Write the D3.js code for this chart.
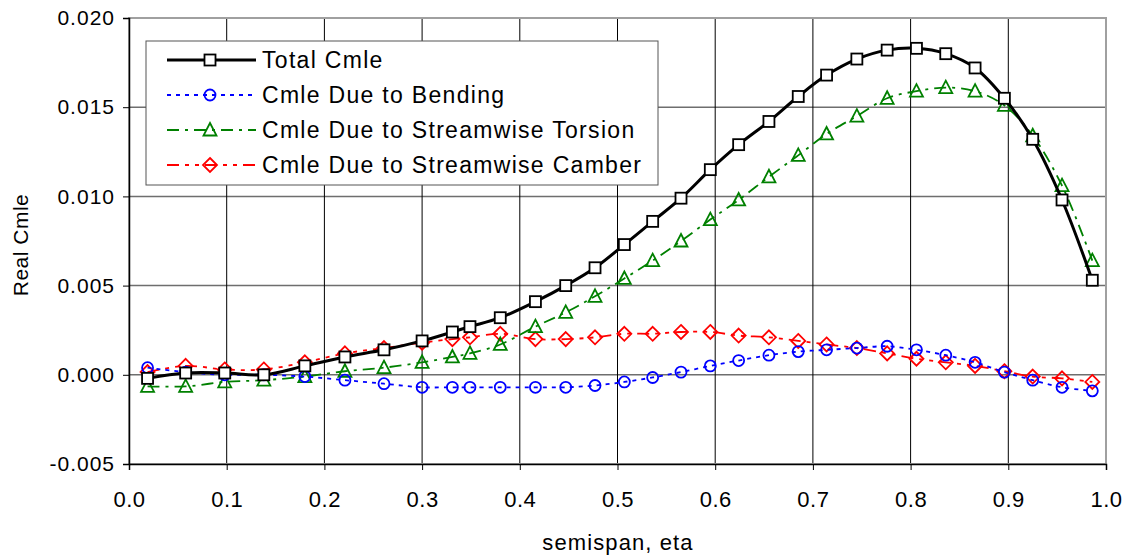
<!DOCTYPE html>
<html>
<head>
<meta charset="utf-8">
<script src="https://cdn.jsdelivr.net/npm/d3@7"></script>
<style>
  body { margin: 0; background: #fff; }
  svg text { font-family: "Liberation Sans", Arial, sans-serif; fill: #000; }
</style>
</head>
<body>
<div id="chart"></div>
<script>
// spanwise stations (eta)
var eta = [0.019, 0.058, 0.098, 0.138, 0.180, 0.221, 0.261, 0.300, 0.331, 0.349, 0.380,
           0.416, 0.447, 0.477, 0.507, 0.536, 0.565, 0.595, 0.624, 0.655, 0.685, 0.714,
           0.745, 0.776, 0.806, 0.836, 0.866, 0.896, 0.925, 0.955, 0.986];

var totalCmle = [-0.0002, 0.0001, 0.0001, 0.0000, 0.0005, 0.0010, 0.0014, 0.0019, 0.0024, 0.0027, 0.0032,
                 0.0041, 0.0050, 0.0060, 0.0073, 0.0086, 0.0099, 0.0115, 0.0129, 0.0142, 0.0156, 0.0168,
                 0.0177, 0.0182, 0.0183, 0.0180, 0.0172, 0.0155, 0.0132, 0.0098, 0.0053];

var bendingCmle = [0.0004, 0.00015, 0.0000, 0.0000, -0.0001, -0.0003, -0.0005, -0.0007, -0.0007, -0.0007, -0.0007,
                   -0.0007, -0.0007, -0.0006, -0.0004, -0.00015, 0.00015, 0.0005, 0.0008, 0.0011, 0.0013, 0.0014,
                   0.0015, 0.0016, 0.0014, 0.0011, 0.0007, 0.00015, -0.0003, -0.0007, -0.0009];

var torsionCmle = [-0.00065, -0.00065, -0.0004, -0.0003, -0.0001, 0.0002, 0.0004, 0.0007, 0.0010, 0.0012, 0.0017,
                   0.0027, 0.0035, 0.0044, 0.0054, 0.0064, 0.0075, 0.0087, 0.0098, 0.0111, 0.0123, 0.0135,
                   0.0145, 0.0155, 0.0159, 0.0161, 0.0159, 0.0151, 0.0134, 0.0106, 0.0064];

var camberCmle = [0.00015, 0.0005, 0.0003, 0.0003, 0.0007, 0.0012, 0.0015, 0.0018, 0.0020, 0.0021, 0.0023,
                  0.0020, 0.0020, 0.0021, 0.0023, 0.0023, 0.0024, 0.0024, 0.0022, 0.0021, 0.0019, 0.0017,
                  0.0015, 0.0012, 0.0009, 0.0007, 0.0005, 0.0002, -0.0001, -0.0002, -0.0004];

var seriesNames = ["Total Cmle", "Cmle Due to Bending", "Cmle Due to Streamwise Torsion", "Cmle Due to Streamwise Camber"];

var xTicks = [0.0, 0.1, 0.2, 0.3, 0.4, 0.5, 0.6, 0.7, 0.8, 0.9, 1.0];
var yTicks = [-0.005, 0.000, 0.005, 0.010, 0.015, 0.020];

var width = 1133, height = 556;
var margin = {top: 18, right: 27, bottom: 92, left: 129};

var svg = d3.select("#chart").append("svg")
    .attr("width", width)
    .attr("height", height);

var x = d3.scaleLinear().domain([0, 1]).range([margin.left, width - margin.right]);
var y = d3.scaleLinear().domain([-0.005, 0.020]).range([height - margin.bottom, margin.top]);

// grid
svg.selectAll(".hgrid").data(yTicks).enter().append("line")
    .attr("x1", x(0)).attr("x2", x(1))
    .attr("y1", function(d){ return y(d); }).attr("y2", function(d){ return y(d); })
    .attr("stroke", "#6e6e6e").attr("stroke-width", 1.5);

svg.selectAll(".vgrid").data(xTicks).enter().append("line")
    .attr("x1", function(d){ return x(d); }).attr("x2", function(d){ return x(d); })
    .attr("y1", y(0.020)).attr("y2", y(-0.005))
    .attr("stroke", "#000").attr("stroke-width", 1);

// plot border (top/right grey)
svg.append("rect")
    .attr("x", x(0)).attr("y", y(0.020))
    .attr("width", x(1) - x(0)).attr("height", y(-0.005) - y(0.020))
    .attr("fill", "none").attr("stroke", "#a0a0a0").attr("stroke-width", 2);

// axes
var yFmt = d3.format(".3f");
var yAxis = svg.append("g")
    .attr("transform", "translate(" + x(0) + ",0)")
    .call(d3.axisLeft(y).tickValues(yTicks).tickSize(6)
        .tickFormat(function(d){ return yFmt(d).replace("\u2212", "-"); }));
yAxis.selectAll("text")
    .attr("font-size", 21).attr("letter-spacing", 1).attr("dx", -5)
    .attr("font-family", "Liberation Sans, Arial, sans-serif");

var xAxis = svg.append("g")
    .attr("transform", "translate(0," + y(-0.005) + ")")
    .call(d3.axisBottom(x).tickValues(xTicks).tickSize(6).tickFormat(d3.format(".1f")));
xAxis.selectAll("text").attr("font-size", 22).attr("dy", 34).attr("letter-spacing", 0.5)
    .attr("font-family", "Liberation Sans, Arial, sans-serif");

[yAxis, xAxis].forEach(function(a){
    a.select(".domain").attr("stroke", "#000").attr("stroke-width", 1.5);
    a.selectAll(".tick line").attr("stroke", "#000");
});

// axis titles
svg.append("text")
    .attr("x", 618).attr("y", 550)
    .attr("text-anchor", "middle")
    .attr("font-size", 22)
    .attr("letter-spacing", 1.1)
    .text("semispan, eta");

svg.append("text")
    .attr("transform", "translate(28," + ((y(0.020) + y(-0.005)) / 2 + 4) + ") rotate(-90)")
    .attr("text-anchor", "middle")
    .attr("font-size", 21)
    .attr("letter-spacing", 0.5)
    .text("Real Cmle");

// series
var series = [
    {name: seriesNames[0], values: totalCmle, color: "#000", width: 3, dash: null, marker: "square"},
    {name: seriesNames[1], values: bendingCmle, color: "#0000ff", width: 1.8, dash: "4,5", marker: "circle"},
    {name: seriesNames[2], values: torsionCmle, color: "#008000", width: 1.8, dash: "12,6,3,6", marker: "triangle"},
    {name: seriesNames[3], values: camberCmle, color: "#ff0000", width: 1.8, dash: "12,6,4,6,4,6", marker: "diamond"}
];

var line = d3.line()
    .x(function(d){ return x(d[0]); })
    .y(function(d){ return y(d[1]); })
    .curve(d3.curveCatmullRom.alpha(0.5));

function drawMarker(g, type, color, cx, cy) {
    if (type === "square") {
        g.append("rect").attr("x", cx - 5.5).attr("y", cy - 5.5).attr("width", 11).attr("height", 11)
            .attr("fill", "#fff").attr("stroke", color).attr("stroke-width", 1.8);
    } else if (type === "circle") {
        g.append("circle").attr("cx", cx).attr("cy", cy).attr("r", 5.5)
            .attr("fill", "none").attr("stroke", color).attr("stroke-width", 1.8);
    } else if (type === "triangle") {
        g.append("path").attr("d", "M" + cx + "," + (cy - 7) + "L" + (cx + 6.5) + "," + (cy + 5.5) + "L" + (cx - 6.5) + "," + (cy + 5.5) + "Z")
            .attr("fill", "none").attr("stroke", color).attr("stroke-width", 1.8);
    } else if (type === "diamond") {
        g.append("path").attr("d", "M" + cx + "," + (cy - 7) + "L" + (cx + 7) + "," + cy + "L" + cx + "," + (cy + 7) + "L" + (cx - 7) + "," + cy + "Z")
            .attr("fill", "none").attr("stroke", color).attr("stroke-width", 1.8);
    }
}

// draw in back-to-front order: camber, torsion, bending, total
[3, 2, 1, 0].forEach(function(i){
    var s = series[i];
    var pts = eta.map(function(e, j){ return [e, s.values[j]]; });
    var g = svg.append("g");
    g.append("path").datum(pts)
        .attr("d", line)
        .attr("fill", "none")
        .attr("stroke", s.color)
        .attr("stroke-width", s.width)
        .attr("stroke-dasharray", s.dash);
    pts.forEach(function(p){ drawMarker(g, s.marker, s.color, x(p[0]), y(p[1])); });
});

// legend
var legend = svg.append("g");
legend.append("rect")
    .attr("x", 146).attr("y", 41).attr("width", 512).attr("height", 144)
    .attr("fill", "#fff").attr("stroke", "#555").attr("stroke-width", 1);

series.forEach(function(s, i){
    var ly = 60 + i * 35;
    var g = legend.append("g");
    g.append("line").attr("x1", 167).attr("x2", 256).attr("y1", ly).attr("y2", ly)
        .attr("stroke", s.color).attr("stroke-width", s.width).attr("stroke-dasharray", s.dash);
    drawMarker(g, s.marker, s.color, 210, ly);
    g.append("text").attr("x", 262).attr("y", ly + 8)
        .attr("font-size", 23).attr("letter-spacing", 1.3).text(s.name);
});
</script>
</body>
</html>
